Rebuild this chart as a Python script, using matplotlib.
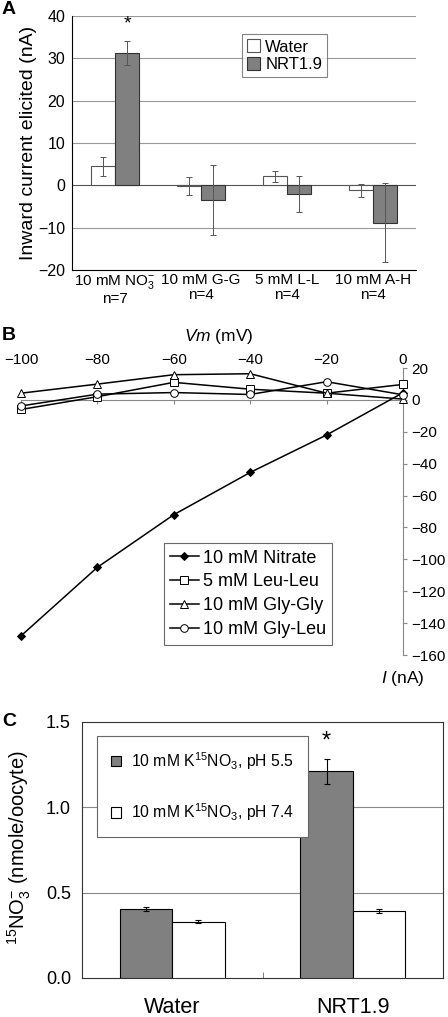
import matplotlib
matplotlib.use("Agg")
import matplotlib.pyplot as plt
import numpy as np

plt.rcParams["font.family"] = ["Liberation Sans", "DejaVu Sans"]
plt.rcParams["mathtext.fontset"] = "custom"
plt.rcParams["mathtext.rm"] = "Liberation Sans"
plt.rcParams["mathtext.it"] = "Liberation Sans:italic"
plt.rcParams["mathtext.bf"] = "Liberation Sans:bold"

# ---- Panel A data ----
a_cats = ["10 mM NO$_3^{-}$\nn=7", "10 mM G-G\nn=4", "5 mM L-L\nn=4", "10 mM A-H\nn=4"]
a_water = [4.5, -0.2, 2.1, -1.2]
a_water_err = [2.3, 2.2, 1.2, 1.6]
a_nrt = [31.3, -3.5, -2.1, -8.8]
a_nrt_err = [2.8, 8.2, 4.3, 9.3]

# ---- Panel B data ----
b_vm = [-100, -80, -60, -40, -20, 0]
b_nitrate = [-148, -105, -72, -45.5, -22, 4.5]
b_leuleu = [-6, 2, 11, 6.7, 4.2, 9.7]
b_glygly = [4.2, 9.9, 15.8, 16.4, 4.2, 0.5]
b_glyleu = [-3.8, 3.6, 4.6, 3.4, 11.4, 3.2]

# ---- Panel C data ----
c_cats = ["Water", "NRT1.9"]
c_ph55 = [0.405, 1.21]
c_ph55_err = [0.01, 0.075]
c_ph74 = [0.33, 0.39]
c_ph74_err = [0.008, 0.012]

GRAY = "#808080"
W, H = 448, 1017
fig = plt.figure(figsize=(W / 100, H / 100), dpi=100)


def rect(l, t, r, b):
    return [l / W, 1 - b / H, (r - l) / W, (b - t) / H]


# ------- Panel A -------------------------------------------------------
ax = fig.add_axes(rect(72, 16, 416, 270))
x = np.arange(len(a_cats))
bw = 0.28
ax.bar(x - bw / 2, a_water, bw, color="white", edgecolor="#555555", lw=0.8,
       yerr=a_water_err, error_kw=dict(ecolor="#555555", elinewidth=0.7, capsize=2.5, capthick=0.7),
       label="Water", zorder=3)
ax.bar(x + bw / 2, a_nrt, bw, color=GRAY, edgecolor="#333333", lw=0.8,
       yerr=a_nrt_err, error_kw=dict(ecolor="#555555", elinewidth=0.7, capsize=2.5, capthick=0.7),
       label="NRT1.9", zorder=3)
ax.text(x[0] + bw / 2, a_nrt[0] + a_nrt_err[0] + 2.0, "*", ha="center", va="bottom", fontsize=14)
ax.set_xlim(-0.5, len(a_cats) - 0.5)
ax.set_ylim(-20, 40)
ax.set_yticks(np.arange(-20, 41, 10))
for v in [-10, 10, 20, 30, 40]:
    ax.axhline(v, color="#999999", lw=0.8, zorder=1)
ax.axhline(0, color="#555555", lw=0.8, zorder=2)
ax.set_xticks(x)
ax.set_xticklabels(a_cats, fontsize=11, linespacing=1.1)
ax.tick_params(axis="x", length=0, pad=2)
ax.tick_params(axis="y", labelsize=11.5, length=0, pad=5)
for s in ["top", "right"]:
    ax.spines[s].set_visible(False)
ax.set_ylabel("Inward current elicited (nA)", fontsize=14, labelpad=1)
leg = ax.legend(loc="upper left", bbox_to_anchor=(0.47, 0.96), fontsize=12, frameon=True,
                fancybox=False, edgecolor="#666666", handlelength=0.8, handleheight=0.8,
                handletextpad=0.3, borderpad=0.3, labelspacing=0.15)
leg.get_frame().set_linewidth(0.8)
fig.text(2 / W, 1 - 9 / H, "A", fontsize=14, fontweight="bold", va="center")

# ------- Panel B -------------------------------------------------------
ax = fig.add_axes(rect(21, 368, 403, 655))
series = [
    (b_nitrate, "D", "black", 4.5, "10 mM Nitrate"),
    (b_leuleu, "s", "white", 5.5, "5 mM Leu-Leu"),
    (b_glygly, "^", "white", 5.5, "10 mM Gly-Gly"),
    (b_glyleu, "o", "white", 5.5, "10 mM Gly-Leu"),
]
for ys, mk, fc, ms, lab in series:
    ax.plot(b_vm, ys, color="black", lw=1.1, marker=mk, mfc=fc, mec="black",
            mew=0.7, ms=ms, label=lab, clip_on=False, zorder=3)
ax.set_xlim(-100, 0)
ax.set_ylim(-160, 20)
ax.set_xticks(b_vm)
ax.set_yticks(np.arange(-160, 21, 20))
ax.spines["left"].set_visible(False)
ax.spines["bottom"].set_visible(False)
ax.spines["top"].set_position(("data", 0))
ax.spines["top"].set_color("#888888")
ax.spines["right"].set_color("#888888")
ax.xaxis.set_ticks_position("top")
ax.yaxis.set_ticks_position("right")
ax.tick_params(axis="x", direction="in", length=3, color="#888888", labelsize=11, pad=24)
ax.tick_params(axis="y", direction="out", length=3, color="#888888", labelsize=11, pad=3)
ax.patch.set_visible(False)
leg = ax.legend(loc="lower left", bbox_to_anchor=(0.35, 0.005), fontsize=13, frameon=True,
                fancybox=False, edgecolor="#444444", handlelength=1.6, handletextpad=0.2,
                borderpad=0.35, labelspacing=0.38)
leg.get_frame().set_linewidth(0.8)
fig.text(219 / W, 1 - 336 / H, "$Vm$ (mV)", fontsize=12.5, ha="center", va="center")
fig.text(403 / W, 1 - 679 / H, "$I$ (nA)", fontsize=12.5, ha="center", va="center")
fig.text(2 / W, 1 - 335 / H, "B", fontsize=14, fontweight="bold", va="center")

# ------- Panel C -------------------------------------------------------
ax = fig.add_axes(rect(82, 722, 443, 978))
x = np.arange(len(c_cats))
bw = 0.29
ekw = dict(ecolor="black", elinewidth=0.8, capsize=2.5, capthick=0.8)
ax.bar(x - bw / 2, c_ph55, bw, color=GRAY, edgecolor="black", lw=0.8, yerr=c_ph55_err,
       error_kw=ekw, label="10 mM K$^{15}$NO$_3$, pH 5.5", zorder=3)
ax.bar(x + bw / 2, c_ph74, bw, color="white", edgecolor="black", lw=0.8, yerr=c_ph74_err,
       error_kw=ekw, label="10 mM K$^{15}$NO$_3$, pH 7.4", zorder=3)
ax.text(x[1] - bw / 2, c_ph55[1] + c_ph55_err[1] + 0.035, "*", ha="center", va="bottom",
        fontsize=17)
ax.set_xlim(-0.5, 1.5)
ax.set_ylim(0, 1.5)
ax.set_yticks([0.0, 0.5, 1.0, 1.5])
ax.set_yticklabels(["0.0", "0.5", "1.0", "1.5"])
for v in [0.5, 1.0]:
    ax.axhline(v, color="#888888", lw=0.8, zorder=1)
ax.set_xticks(x)
ax.set_xticklabels(c_cats, fontsize=15.5)
ax.set_xticks([0.5], minor=True)
ax.tick_params(axis="x", which="major", length=0, pad=14)
ax.tick_params(axis="x", which="minor", direction="in", length=4, color="#666666")
ax.tick_params(axis="y", labelsize=13, length=0, pad=8)
for s in ax.spines.values():
    s.set_color("#333333")
    s.set_linewidth(0.8)
ax.set_ylabel("$^{15}$NO$_3^{-}$ (nmole/oocyte)", fontsize=14.5)
ax.yaxis.set_label_coords(-0.136, 0.51)
leg = ax.legend(loc="upper left", bbox_to_anchor=(0.019, 0.977), fontsize=11.3, frameon=True,
                fancybox=False, edgecolor="#666666", handlelength=0.65, handleheight=0.65,
                handletextpad=0.65, borderpad=0.9, labelspacing=1.9, framealpha=1)
leg.get_frame().set_linewidth(0.8)
fig.text(2 / W, 1 - 722 / H, "C", fontsize=14, fontweight="bold", va="center")

fig.savefig("out.png", dpi=100)
